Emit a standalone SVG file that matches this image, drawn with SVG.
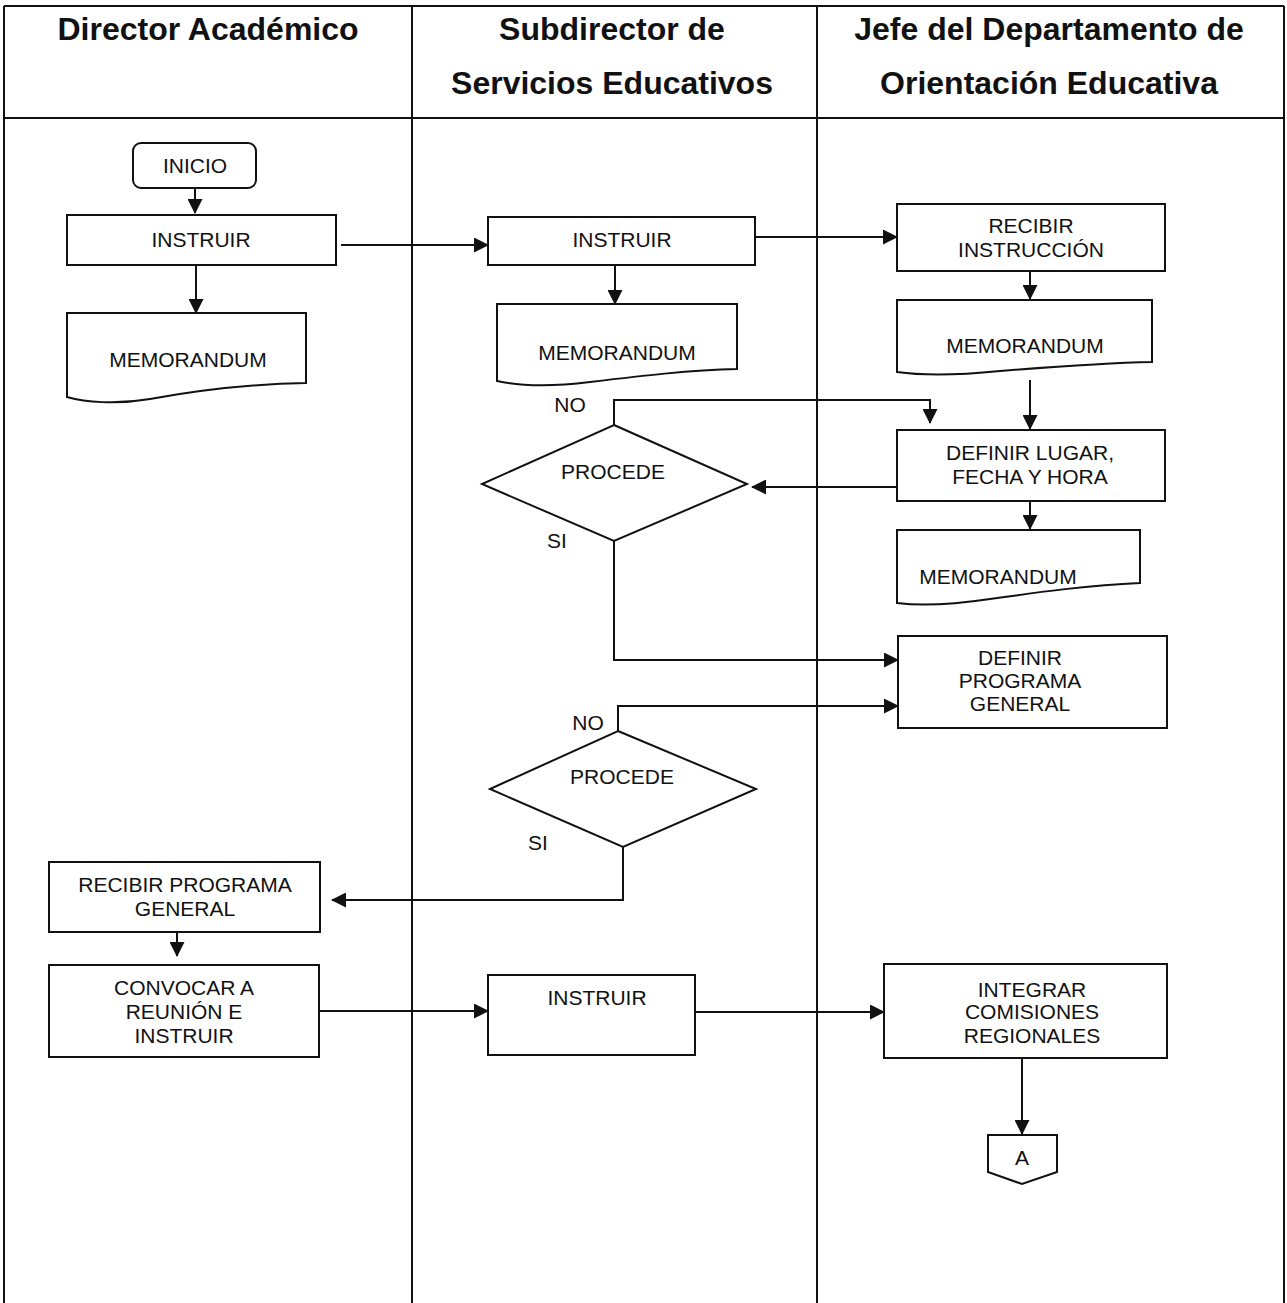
<svg xmlns="http://www.w3.org/2000/svg" width="1287" height="1303" viewBox="0 0 1287 1303">
  <style>
    .frame { fill: none; stroke: #111; stroke-width: 2; }
    .box { fill: #fff; stroke: #111; stroke-width: 2; }
    .conn { fill: none; stroke: #111; stroke-width: 2; }
    .hdr { font-family: "Liberation Sans", Arial, sans-serif; font-weight: bold; font-size: 32px; fill: #111; text-anchor: middle; }
    .lbl { font-family: "Liberation Sans", Arial, sans-serif; font-size: 21px; fill: #111; text-anchor: middle; }
  </style>
  <defs>
    <marker id="arrow" markerUnits="userSpaceOnUse" markerWidth="15" markerHeight="15" refX="14" refY="7.5" orient="auto">
      <path d="M0,0 L15,7.5 L0,15 z" fill="#111"/>
    </marker>
  </defs>

  <rect width="1287" height="1303" fill="#fff"/>

  <!-- swimlane frame -->
  <g id="lanes">
    <line class="frame" x1="4" y1="6" x2="1284" y2="6"/>
    <line class="frame" x1="4" y1="118" x2="1284" y2="118"/>
    <line class="frame" x1="4" y1="6" x2="4" y2="1303"/>
    <line class="frame" x1="1284" y1="6" x2="1284" y2="1303"/>
    <line class="frame" x1="412" y1="6" x2="412" y2="1303"/>
    <line class="frame" x1="817" y1="6" x2="817" y2="1303"/>
    <text class="hdr" x="208" y="40">Director Académico</text>
    <text class="hdr" x="612" y="40">Subdirector de</text>
    <text class="hdr" x="612" y="94">Servicios Educativos</text>
    <text class="hdr" x="1049" y="40">Jefe del Departamento de</text>
    <text class="hdr" x="1049" y="94">Orientación Educativa</text>
  </g>

  <!-- connectors -->
  <g id="connectors">
    <path class="conn" d="M195,188 V213" marker-end="url(#arrow)"/>
    <path class="conn" d="M196,265 V313" marker-end="url(#arrow)"/>
    <path class="conn" d="M341,245 H488" marker-end="url(#arrow)"/>
    <path class="conn" d="M755,237 H897" marker-end="url(#arrow)"/>
    <path class="conn" d="M615,265 V304" marker-end="url(#arrow)"/>
    <path class="conn" d="M1030,271 V299" marker-end="url(#arrow)"/>
    <path class="conn" d="M1030,380 V429" marker-end="url(#arrow)"/>
    <path class="conn" d="M614,425 V400 H930 V423" marker-end="url(#arrow)"/>
    <path class="conn" d="M897,487 H752" marker-end="url(#arrow)"/>
    <path class="conn" d="M1030,501 V529" marker-end="url(#arrow)"/>
    <path class="conn" d="M614,541 V660 H898" marker-end="url(#arrow)"/>
    <path class="conn" d="M618,731 V706 H898" marker-end="url(#arrow)"/>
    <path class="conn" d="M623,847 V900 H332" marker-end="url(#arrow)"/>
    <path class="conn" d="M177,932 V956" marker-end="url(#arrow)"/>
    <path class="conn" d="M319,1011 H488" marker-end="url(#arrow)"/>
    <path class="conn" d="M695,1012 H884" marker-end="url(#arrow)"/>
    <path class="conn" d="M1022,1058 V1134" marker-end="url(#arrow)"/>
    <text class="lbl" x="570" y="412">NO</text>
    <text class="lbl" x="557" y="548">SI</text>
    <text class="lbl" x="588" y="730">NO</text>
    <text class="lbl" x="538" y="850">SI</text>
  </g>

  <!-- Director Académico lane -->
  <g id="inicio">
    <rect class="box" x="133" y="143" width="123" height="45" rx="8"/>
    <text class="lbl" x="195" y="173">INICIO</text>
  </g>
  <g id="instruir-director">
    <rect class="box" x="67" y="215" width="269" height="50"/>
    <text class="lbl" x="201" y="247">INSTRUIR</text>
  </g>
  <g id="memo-director">
    <path class="box" d="M67,313 H306 V383 C250,384 200,390 150,399 C115,405 85,402 67,397 Z"/>
    <text class="lbl" x="188" y="367">MEMORANDUM</text>
  </g>
  <g id="recibir-programa">
    <rect class="box" x="49" y="862" width="271" height="70"/>
    <text class="lbl" x="185" y="892">RECIBIR PROGRAMA</text>
    <text class="lbl" x="185" y="916">GENERAL</text>
  </g>
  <g id="convocar">
    <rect class="box" x="49" y="965" width="270" height="92"/>
    <text class="lbl" x="184" y="995">CONVOCAR A</text>
    <text class="lbl" x="184" y="1019">REUNIÓN E</text>
    <text class="lbl" x="184" y="1043">INSTRUIR</text>
  </g>

  <!-- Subdirector de Servicios Educativos lane -->
  <g id="instruir-subdirector">
    <rect class="box" x="488" y="217" width="267" height="48"/>
    <text class="lbl" x="622" y="247">INSTRUIR</text>
  </g>
  <g id="memo-subdirector">
    <path class="box" d="M497,304 H737 V369 C690,370 640,376 590,382 C550,387 520,386 497,381 Z"/>
    <text class="lbl" x="617" y="360">MEMORANDUM</text>
  </g>
  <g id="procede-1">
    <polygon class="box" points="614,425 747,484 614,541 482,484"/>
    <text class="lbl" x="613" y="479">PROCEDE</text>
  </g>
  <g id="procede-2">
    <polygon class="box" points="618,731 756,789 623,847 490,789"/>
    <text class="lbl" x="622" y="784">PROCEDE</text>
  </g>
  <g id="instruir-reunion">
    <rect class="box" x="488" y="975" width="207" height="80"/>
    <text class="lbl" x="597" y="1005">INSTRUIR</text>
  </g>

  <!-- Jefe del Departamento de Orientación Educativa lane -->
  <g id="recibir-instruccion">
    <rect class="box" x="897" y="204" width="268" height="67"/>
    <text class="lbl" x="1031" y="233">RECIBIR</text>
    <text class="lbl" x="1031" y="257">INSTRUCCIÓN</text>
  </g>
  <g id="memo-jefe-1">
    <path class="box" d="M897,300 H1152 V362 C1100,363 1050,367 1000,371 C960,375 925,376 897,372 Z"/>
    <text class="lbl" x="1025" y="353">MEMORANDUM</text>
  </g>
  <g id="definir-lugar">
    <rect class="box" x="897" y="430" width="268" height="71"/>
    <text class="lbl" x="1030" y="460">DEFINIR LUGAR,</text>
    <text class="lbl" x="1030" y="484">FECHA Y HORA</text>
  </g>
  <g id="memo-jefe-2">
    <path class="box" d="M897,530 H1140 V583 C1090,585 1040,592 990,599 C950,605 920,606 897,603 Z"/>
    <text class="lbl" x="998" y="584">MEMORANDUM</text>
  </g>
  <g id="definir-programa">
    <rect class="box" x="898" y="636" width="269" height="92"/>
    <text class="lbl" x="1020" y="665">DEFINIR</text>
    <text class="lbl" x="1020" y="688">PROGRAMA</text>
    <text class="lbl" x="1020" y="711">GENERAL</text>
  </g>
  <g id="integrar">
    <rect class="box" x="884" y="964" width="283" height="94"/>
    <text class="lbl" x="1032" y="997">INTEGRAR</text>
    <text class="lbl" x="1032" y="1019">COMISIONES</text>
    <text class="lbl" x="1032" y="1043">REGIONALES</text>
  </g>
  <g id="conector-a">
    <path class="box" d="M988,1135 H1057 V1172 L1022,1184 L988,1172 Z"/>
    <text class="lbl" x="1022" y="1165">A</text>
  </g>
</svg>
